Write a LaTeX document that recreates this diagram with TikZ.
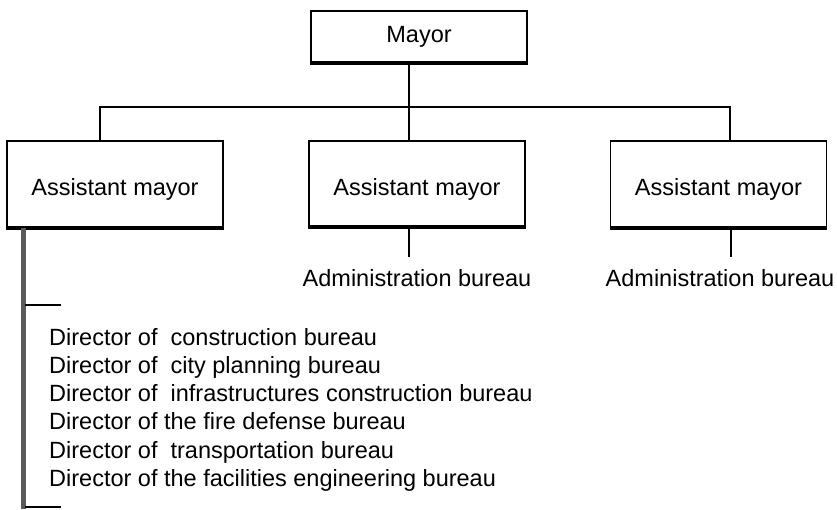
\documentclass[tikz,border=0pt]{standalone}
\usepackage{fontspec}
\setmainfont{Liberation Sans}
\usetikzlibrary{positioning}
\tikzset{
  orgunit/.style={draw, line width=1.8pt, minimum width=216pt, inner sep=0pt, font=\fontsize{23.5}{28}\selectfont},
  lowtext/.style={text height=28pt, text depth=5pt},
  orgline/.style={line width=1.8pt},
  staffline/.style={line width=5pt, draw=black!65},
  orglabel/.style={inner sep=0pt, font=\fontsize{23.5}{28}\selectfont}
}
\newcommand{\orgbox}[4] {\node at (#1) (#2) [orgunit, #3] {#4};
  \draw [line width=3.5pt] ([yshift=-0.8pt]#2.south west) -- ([yshift=-0.8pt]#2.south east);}
\newcommand{\orglabel}[3] {\node at (#1) (#2) [orglabel] {#3};}

\begin{document}
\begin{tikzpicture}[x=1pt, y=-1pt]
\useasboundingbox (0,0) rectangle (837,509);

\orgbox {419,36.5} {mayor} {minimum height=51pt} {Mayor};
\orgbox {115,184} {amL} {minimum height=86pt, lowtext} {Assistant mayor};
\orgbox {417,183.5} {amM} {minimum height=85pt, lowtext} {Assistant mayor};
\orgbox {718.5,184} {amR} {minimum height=86pt, lowtext} {Assistant mayor};

\orglabel {417,278} {adminM} {Administration bureau};
\orglabel {720,278} {adminR} {Administration bureau};

\coordinate (hub) at (409,107);
\coordinate (busL) at (100,107);
\coordinate (busR) at (730,107);
\coordinate (staffEnd) at (23,509);
\coordinate (tickT) at (25,305);
\coordinate (tickB) at (25,507);

\draw [orgline] (mayor.south -| hub) -- (amM.north -| hub);
\draw [orgline] (amL.north -| busL) -- (busL) -- (busR) -- (amR.north -| busR);
\draw [orgline] (amM.south -| hub) -- ([yshift=12pt]adminM.north -| hub);
\draw [orgline] (amR.south -| 731,0) -- ([yshift=12pt]adminR.north -| 731,0);

\draw [staffline] (amL.south -| staffEnd) -- (staffEnd);
\draw [orgline] (tickT) -- ++(36,0);
\draw [orgline] (tickB) -- ++(36,0);

\foreach \txt [count=\i] in {Director of\ \ construction bureau, Director of\ \ city planning bureau,
  Director of\ \ infrastructures construction bureau, Director of the fire defense bureau,
  Director of\ \ transportation bureau, Director of the facilities engineering bureau}
  \node [orglabel, anchor=base west] (dir\i) at (49,{345+28.3*(\i-1)}) {\txt};

\end{tikzpicture}
\end{document}
